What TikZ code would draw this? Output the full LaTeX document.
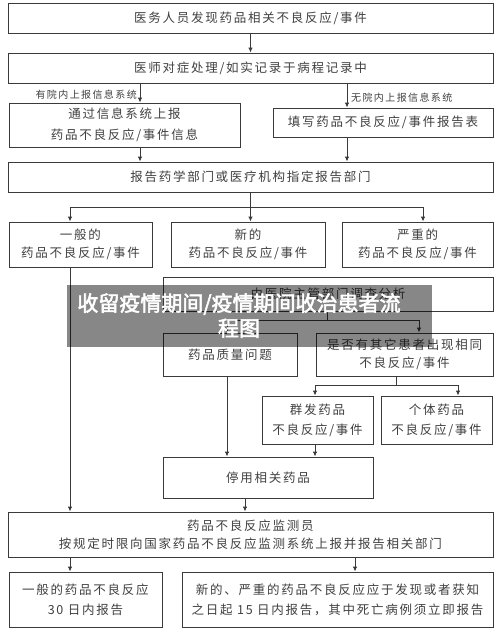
\documentclass[tikz,border=0pt]{standalone}
\usepackage{fontspec}
\setmainfont{Noto Sans CJK SC}[LetterSpace=14]
\newfontfamily\bannerfont{Noto Sans CJK SC}[FakeBold=2.5]
\usetikzlibrary{arrows.meta}
\definecolor{ln}{HTML}{3A3A3A}
\definecolor{tx}{HTML}{404040}
\begin{document}
\begin{tikzpicture}[x=1pt,y=-1pt,
  box/.style={draw=ln,line width=0.9pt,rectangle,inner sep=0pt,align=center,text=tx,
    font=\fontsize{12.5}{18}\selectfont},
  arr/.style={draw=ln,line width=0.9pt,-{Latex[length=5pt,width=4.5pt]}},
  ln/.style={draw=ln,line width=0.9pt},
  lab/.style={text=tx,inner sep=0pt,font=\fontsize{10}{12}\selectfont}]
\useasboundingbox (0,0) rectangle (500,633);
\fill[white] (0,0) rectangle (500,633);
% nodes
\node[box,minimum width=485,minimum height=30] (b1) at (250.5,18) {医务人员发现药品相关不良反应/事件};
\node[box,minimum width=485,minimum height=30] (b2) at (250.5,68) {医师对症处理/如实记录于病程记录中};
\node[box,minimum width=231,minimum height=44,font=\fontsize{12.5}{21}\selectfont] (b3) at (124.5,125) {通过信息系统上报\\药品不良反应/事件信息};
\node[box,minimum width=220,minimum height=29] (b4) at (383,122.5) {填写药品不良反应/事件报告表};
\node[box,minimum width=485,minimum height=30] (b5) at (250.5,177) {报告药学部门或医疗机构指定报告部门};
\node[box,minimum width=143,minimum height=45] (b6) at (80.5,244.5) {一般的\\药品不良反应/事件};
\node[box,minimum width=154,minimum height=45] (b7) at (248,244.5) {新的\\药品不良反应/事件};
\node[box,minimum width=151,minimum height=45] (b8) at (417.5,244.5) {严重的\\药品不良反应/事件};
\node[box,minimum width=330,minimum height=34] (b9) at (328,294) {由医院主管部门调查分析};
\node[box,minimum width=134,minimum height=43] (b10) at (230,354.5) {药品质量问题};
\node[box,minimum width=177,minimum height=43] (b11) at (404.5,354.5) {是否有其它患者出现相同\\不良反应/事件};
\node[box,minimum width=111,minimum height=48,font=\fontsize{12.5}{20}\selectfont] (b12) at (317.5,420) {群发药品\\不良反应/事件};
\node[box,minimum width=111,minimum height=48,font=\fontsize{12.5}{20}\selectfont] (b13) at (436.5,420) {个体药品\\不良反应/事件};
\node[box,minimum width=210,minimum height=41] (b14) at (268,477.5) {停用相关药品};
\node[box,minimum width=485,minimum height=45] (b15) at (250.5,534.5) {药品不良反应监测员\\按规定时限向国家药品不良反应监测系统上报并报告相关部门};
\node[box,minimum width=153,minimum height=55,font=\fontsize{12.5}{20}\selectfont] (b16) at (85.5,599.5) {一般的药品不良反应\\30 日内报告};
\node[box,minimum width=311,minimum height=55,font=\fontsize{12.5}{20}\selectfont] (b17) at (337.5,599.5) {新的、严重的药品不良反应应于发现或者获知\\之日起 15 日内报告，其中死亡病例须立即报告};
% labels
\node[lab,anchor=east] (l1) at (137,95) {有院内上报信息系统};
\node[lab,anchor=west] (l2) at (351,98) {无院内上报信息系统};
% helper x positions
\coordinate (xa) at (140,0);
\coordinate (xb) at (347,0);
\coordinate (xc) at (70,0);
\coordinate (xd) at (423,0);
\coordinate (xe) at (227,0);
\coordinate (xf) at (419,0);
\coordinate (xg) at (396,0);
\coordinate (xh) at (315,0);
\coordinate (xi) at (458,0);
\coordinate (xj) at (245,0);
\coordinate (xk) at (355,0);
\coordinate (j1) at (250.5,207);
\coordinate (j2) at (327,320);
\coordinate (j3) at (396,385);
% connectors
\draw[arr] (b1.south) -- (b2.north);
\draw[arr] (b2.south -| xa) -- (b3.north -| xa);
\draw[arr] (b2.south -| xb) -- (b4.north -| xb);
\draw[arr] (b3.south -| xa) -- (b5.north -| xa);
\draw[arr] (b4.south -| xb) -- (b5.north -| xb);
\draw[ln] (b5.south) -- (j1);
\draw[arr] (j1) -| (b6.north -| xc);
\draw[arr] (j1) -- (b7.north -| j1);
\draw[arr] (j1) -| (b8.north -| xd);
\draw[arr] (b6.south -| xc) -- (b15.north -| xc);
\draw[ln] (b9.south -| j2) -- (j2);
\draw[arr] (j2) -| (b10.north -| xe);
\draw[arr] (j2) -| (b11.north -| xf);
\draw[ln] (b11.south -| j3) -- (j3);
\draw[arr] (j3) -| (b12.north -| xh);
\draw[arr] (j3) -| (b13.north -| xi);
\draw[arr] (b10.south -| xe) -- (b14.north -| xe);
\draw[arr] (b12.south -| xh) -- (b14.north -| xh);
\draw[arr] (b14.south -| xj) -- (b15.north -| xj);
\draw[arr] (b15.south -| xc) -- (b16.north -| xc);
\draw[arr] (b15.south -| xk) -- (b17.north -| xk);
% banner overlay
\fill[black,opacity=0.47] (67,285) rectangle (432,347);
\node[text=white,inner sep=0pt,align=center,font=\bannerfont\fontsize{21}{25}\selectfont] (banner) at (239,315.5) {收留疫情期间/疫情期间收治患者流\\程图};
\end{tikzpicture}
\end{document}
